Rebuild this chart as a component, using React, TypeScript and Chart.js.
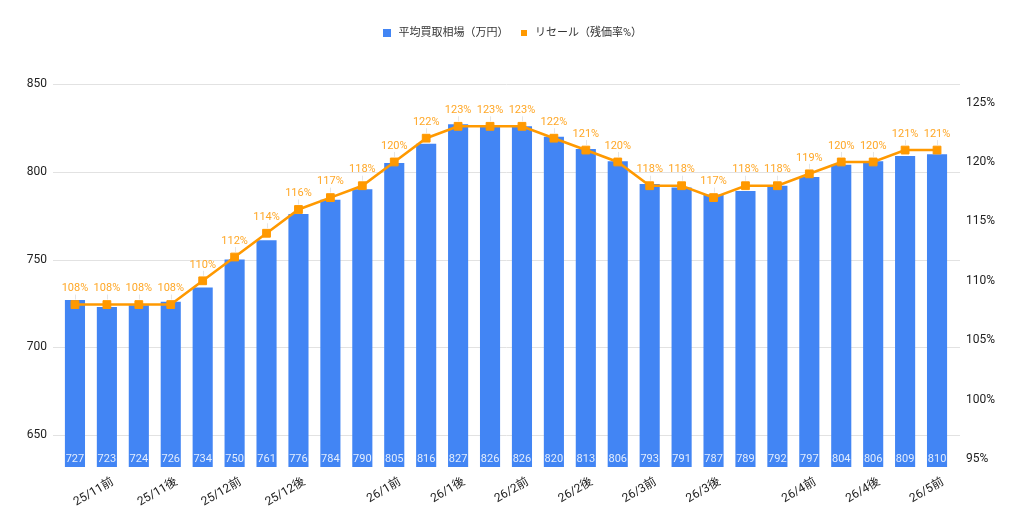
import React, { useEffect, useRef } from "react";
import { Chart, registerables } from "chart.js";

Chart.register(...registerables);

const FONT = "Roboto, 'Noto Sans CJK JP', 'Noto Sans', sans-serif";

const categories = [
  "", "25/11前", "", "25/11後", "", "25/12前", "", "25/12後", "", "",
  "26/1前", "", "26/1後", "", "26/2前", "", "26/2後", "", "26/3前", "",
  "26/3後", "", "", "26/4前", "", "26/4後", "", "26/5前",
];

const priceValues = [
  727, 723, 724, 726, 734, 750, 761, 776, 784, 790, 805, 816, 827, 826,
  826, 820, 813, 806, 793, 791, 787, 789, 792, 797, 804, 806, 809, 810,
];

const resaleValues = [
  108, 108, 108, 108, 110, 112, 114, 116, 117, 118, 120, 122, 123, 123,
  123, 122, 121, 120, 118, 118, 117, 118, 118, 119, 120, 120, 121, 121,
];

const leftTicks = [650, 700, 750, 800, 850];
const rightTicks = [95, 100, 105, 110, 115, 120, 125];

const seriesNames = ["平均買取相場（万円）", "リセール（残価率%）"];

const BLUE = "#4285F4";
const ORANGE = "#FF9900";

function makeSquare(size: number, color: string) {
  const c = document.createElement("canvas");
  c.width = size;
  c.height = size;
  const g = c.getContext("2d")!;
  g.fillStyle = color;
  g.fillRect(0, 0, size, size);
  return c;
}

const legendFix = {
  id: "legendFix",
  afterInit(chart: any) {
    const lg = chart.legend;
    if (!lg) return;
    const orig = lg.fit;
    lg.fit = function () {
      orig.call(this);
      this.height = 66.5;
    };
  },
};

const overlay = {
  id: "overlay",
  beforeDatasetsDraw(chart: any) {
    const ctx = chart.ctx;
    const ys = chart.scales.y;
    const area = chart.chartArea;
    ctx.save();
    ctx.strokeStyle = "#e2e2e2";
    ctx.lineWidth = 1;
    leftTicks.forEach((v) => {
      const y = Math.round(ys.getPixelForValue(v)) + 0.5;
      ctx.beginPath();
      ctx.moveTo(area.left - 6, y);
      ctx.lineTo(area.right + 7, y);
      ctx.stroke();
    });
    ctx.restore();
  },
  afterDatasetsDraw(chart: any) {
    const ctx = chart.ctx;
    const area = chart.chartArea;
    const barMeta = chart.getDatasetMeta(0);
    const lineMeta = chart.getDatasetMeta(1);
    ctx.save();
    ctx.font = `11px ${FONT}`;
    ctx.textAlign = "center";
    ctx.textBaseline = "middle";
    ctx.fillStyle = "rgba(255,255,255,0.85)";
    barMeta.data.forEach((el: any, i: number) => {
      ctx.fillText(String(priceValues[i]), el.x, area.bottom - 8);
    });
    lineMeta.data.forEach((el: any, i: number) => {
      ctx.strokeStyle = "rgba(0,0,0,0.10)";
      ctx.lineWidth = 1;
      ctx.beginPath();
      ctx.moveTo(Math.round(el.x) + 0.5, el.y - 10);
      ctx.lineTo(Math.round(el.x) + 0.5, el.y - 5);
      ctx.stroke();
      ctx.fillStyle = "#FFA726";
      ctx.fillText(resaleValues[i] + "%", el.x, el.y - 16);
    });
    ctx.restore();
  },
};

export default function App() {
  const ref = useRef<HTMLCanvasElement | null>(null);

  useEffect(() => {
    if (!ref.current) return;
    Chart.defaults.font.family = FONT;
    const squares = [makeSquare(8, BLUE), makeSquare(6, ORANGE)];
    const chart = new Chart(ref.current, {
      type: "bar",
      data: {
        labels: categories,
        datasets: [
          {
            type: "bar",
            label: seriesNames[0],
            data: priceValues,
            backgroundColor: BLUE,
            yAxisID: "y",
            barPercentage: 0.63,
            categoryPercentage: 1,
            order: 2,
          },
          {
            type: "line",
            label: seriesNames[1],
            data: resaleValues,
            borderColor: ORANGE,
            backgroundColor: ORANGE,
            borderWidth: 2.6,
            pointStyle: "rect",
            pointRadius: 5.5,
            pointBorderWidth: 1,
            pointBackgroundColor: ORANGE,
            pointBorderColor: ORANGE,
            yAxisID: "y1",
            tension: 0,
            order: 1,
          },
        ],
      } as any,
      options: {
        responsive: false,
        animation: false,
        layout: { padding: { top: 17.5, left: 0, right: 0, bottom: 0 } },
        plugins: {
          tooltip: { enabled: false },
          legend: {
            position: "top",
            align: "center",
            labels: {
              usePointStyle: true,
              padding: 10,
              color: "#333",
              font: { size: 11, family: FONT },
              generateLabels: (c: any) => {
                const items = Chart.defaults.plugins.legend.labels.generateLabels(c);
                items.sort((a: any, b: any) => a.datasetIndex - b.datasetIndex);
                return items.map((it: any) => ({
                  ...it,
                  pointStyle: squares[it.datasetIndex],
                  lineWidth: 0,
                }));
              },
            },
          },
        },
        scales: {
          x: {
            grid: { display: false, drawTicks: false },
            border: { display: false },
            ticks: {
              autoSkip: false,
              maxRotation: 30,
              minRotation: 30,
              labelOffset: 6,
              padding: 8,
              color: "#222",
              font: { size: 12, family: FONT },
            },
            afterFit: (s: any) => {
              s.height = 64;
            },
          },
          y: {
            position: "left",
            min: 631.8,
            max: 850,
            grid: { display: false, drawTicks: false },
            border: { display: false },
            ticks: {
              padding: 12,
              color: "#222",
              font: { size: 12, family: FONT },
            },
            afterBuildTicks: (s: any) => {
              s.ticks = leftTicks.map((v) => ({ value: v }));
            },
            afterFit: (s: any) => {
              s.width = 59;
            },
          },
          y1: {
            position: "right",
            min: 94.33,
            max: 126.56,
            grid: { display: false, drawTicks: false },
            border: { display: false },
            ticks: {
              padding: 13,
              color: "#222",
              font: { size: 12, family: FONT },
              callback: (v: any) => v + "%",
            },
            afterBuildTicks: (s: any) => {
              s.ticks = rightTicks.map((v) => ({ value: v }));
            },
            afterFit: (s: any) => {
              s.width = 71;
            },
          },
        },
      } as any,
      plugins: [legendFix, overlay],
    });
    return () => chart.destroy();
  }, []);

  return (
    <div style={{ position: "fixed", left: 0, top: 0, width: 1024, height: 531, background: "#fff" }}>
      <canvas ref={ref} width={1024} height={531} style={{ display: "block" }} />
    </div>
  );
}
